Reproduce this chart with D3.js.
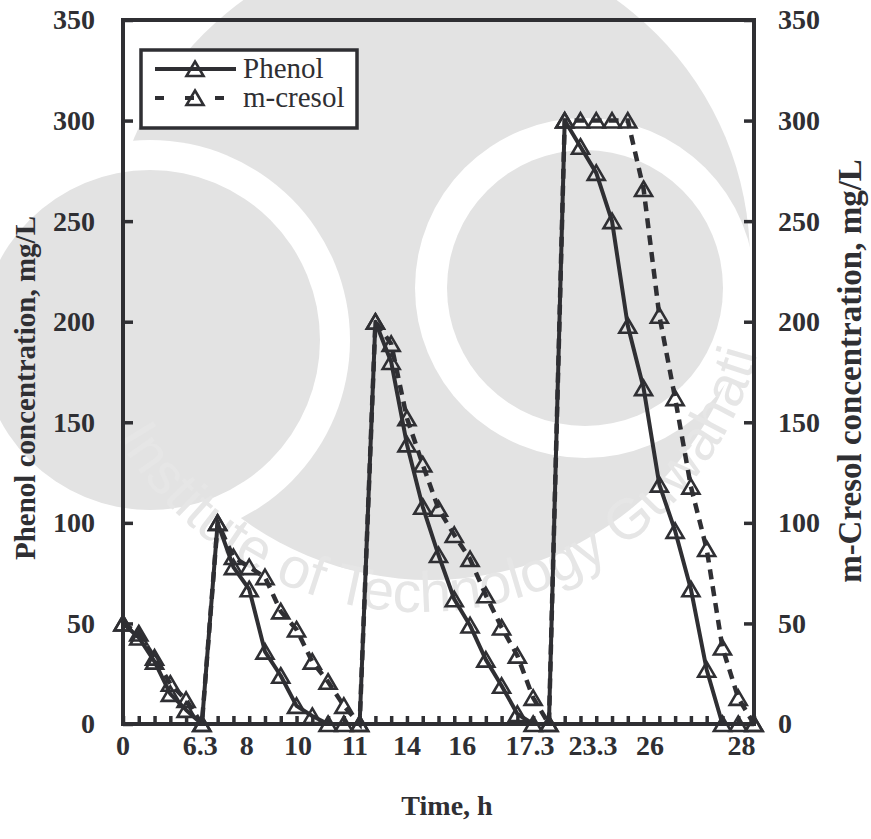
<!DOCTYPE html>
<html>
<head>
<meta charset="utf-8">
<script src="https://cdn.jsdelivr.net/npm/d3@7"></script>
<style>
  html, body { margin: 0; padding: 0; background: #ffffff; }
  svg { display: block; }
</style>
</head>
<body>
<div id="chart"></div>
<script>
// Sample index along the time axis (one reading per step)
const sampleIndex = d3.range(0, 41);

// Phenol concentration (mg/L) at each sample
const phenol = [
  50, 43, 31, 15, 7, 0,
  100, 78, 67, 36, 24, 9, 4, 0, 0, 0,
  200, 180, 139, 108, 84, 62, 49, 32, 19, 5, 0, 0,
  300, 287, 274, 250, 198, 167, 119, 96, 67, 27, 0, 0, 0
];

// m-cresol concentration (mg/L) at each sample
const cresol = [
  50, 45, 33, 20, 12, 0,
  100, 83, 78, 73, 56, 47, 31, 21, 9, 0,
  200, 189, 152, 129, 107, 94, 82, 64, 48, 34, 13, 0,
  300, 300, 300, 300, 300, 266, 203, 162, 118, 87, 38, 13, 0
];

// Time labels (h) and the sample index each one sits under
const timeLabels = ["0", "6.3", "8", "10", "11", "14", "16", "17.3", "23.3", "26", "28"];
const timeLabelAt = [0, 4.9, 7.85, 11.1, 14.7, 18.0, 21.5, 25.8, 29.8, 33.4, 39.2];

// Concentration axis ticks (mg/L)
const concTicks = [0, 50, 100, 150, 200, 250, 300, 350];

const seriesNames = ["Phenol", "m-cresol"];

const W = 871, H = 839;
const ink = "#2f2f33";
const plotLeft = 123, plotRight = 754, plotTop = 20, plotBottom = 724;

const svg = d3.select("#chart").append("svg")
  .attr("width", W).attr("height", H);

// Faint institutional seal behind the chart
const seal = svg.append("g").attr("class", "seal");
const sealGrey = "#e3e3e3";
seal.append("circle").attr("cx", 430).attr("cy", 260).attr("r", 320).attr("fill", sealGrey);
seal.append("circle").attr("cx", 150).attr("cy", 340).attr("r", 200).attr("fill", "#ffffff");
seal.append("circle").attr("cx", 150).attr("cy", 340).attr("r", 170).attr("fill", sealGrey);
seal.append("circle").attr("cx", 585).attr("cy", 288).attr("r", 170).attr("fill", "#ffffff");
seal.append("circle").attr("cx", 585).attr("cy", 288).attr("r", 138).attr("fill", sealGrey);

const ringR = 350, ringCx = 420, ringCy = 262;
seal.append("path")
  .attr("id", "sealRing")
  .attr("fill", "none")
  .attr("d", `M${ringCx},${ringCy - ringR} A${ringR},${ringR} 0 1 0 ${ringCx},${ringCy + ringR} A${ringR},${ringR} 0 1 0 ${ringCx},${ringCy - ringR}`);

// Ring text starts low on the left side (about 150 degrees round from the right)
const sealStartDeg = 150;
seal.append("text")
  .attr("fill", "#e6e6e6")
  .style("font-family", "'Liberation Sans', Arial, sans-serif")
  .style("font-size", "57px")
  .append("textPath")
  .attr("href", "#sealRing")
  .attr("startOffset", ringR * (360 - 90 - sealStartDeg) * Math.PI / 180)
  .text("Institute of Technology Guwahati");

const x = d3.scaleLinear().domain([0, 40]).range([plotLeft, plotRight]);
const yL = d3.scaleLinear().domain([0, 350]).range([plotBottom, plotTop]);
const yR = d3.scaleLinear().domain([0, 350]).range([plotBottom, plotTop]);

const font = "'Liberation Serif', 'Times New Roman', serif";

// Left axis: inward ticks, labels outside
const leftAxis = d3.axisLeft(yL).tickValues(concTicks).tickSizeInner(-10).tickSizeOuter(0).tickPadding(28);
const gL = svg.append("g").attr("transform", `translate(${plotLeft},0)`).call(leftAxis);

// Right axis
const rightAxis = d3.axisRight(yR).tickValues(concTicks).tickSizeInner(-10).tickSizeOuter(0).tickPadding(24);
const gR = svg.append("g").attr("transform", `translate(${plotRight},0)`).call(rightAxis);

// Bottom axis: an inward tick at every sample
const bottomAxis = d3.axisBottom(x).tickValues(sampleIndex).tickSizeInner(-8).tickSizeOuter(0).tickFormat("");
const gB = svg.append("g").attr("transform", `translate(0,${plotBottom})`).call(bottomAxis);

[gL, gR, gB].forEach(g => {
  g.select(".domain").remove();
  g.selectAll(".tick line").attr("stroke", ink).attr("stroke-width", 3.5);
  g.selectAll(".tick text")
    .attr("fill", ink)
    .style("font-family", font)
    .style("font-weight", "bold")
    .style("font-size", "28px");
});
gL.selectAll(".tick text").attr("text-anchor", "end");
gR.selectAll(".tick text").attr("text-anchor", "start");

// Time labels under the axis
svg.append("g").selectAll("text")
  .data(timeLabels)
  .join("text")
  .attr("x", (d, i) => x(timeLabelAt[i]))
  .attr("y", 755)
  .attr("text-anchor", "middle")
  .attr("fill", ink)
  .style("font-family", font)
  .style("font-weight", "bold")
  .style("font-size", "28px")
  .text(d => d);

// Plot frame
svg.append("rect")
  .attr("x", plotLeft).attr("y", plotTop)
  .attr("width", plotRight - plotLeft).attr("height", plotBottom - plotTop)
  .attr("fill", "none").attr("stroke", ink).attr("stroke-width", 4);

// Series lines
const lineL = d3.line().x((d, i) => x(i)).y(d => yL(d));
const lineR = d3.line().x((d, i) => x(i)).y(d => yR(d));

svg.append("path").datum(cresol)
  .attr("d", lineR).attr("fill", "none")
  .attr("stroke", ink).attr("stroke-width", 4.5)
  .attr("stroke-dasharray", "10,7");

svg.append("path").datum(phenol)
  .attr("d", lineL).attr("fill", "none")
  .attr("stroke", ink).attr("stroke-width", 4)
  .attr("stroke-linejoin", "round");

// Triangle markers
const tri = "M0,-7.5L8.5,7L-8.5,7Z";
function markers(data, yScale) {
  svg.append("g").selectAll("path")
    .data(data)
    .join("path")
    .attr("transform", (d, i) => `translate(${x(i)},${yScale(d)})`)
    .attr("d", tri)
    .attr("fill", "none")
    .attr("stroke", ink)
    .attr("stroke-width", 2.6)
    .attr("stroke-linejoin", "miter");
}
markers(cresol, yR);
markers(phenol, yL);

// Axis titles
svg.append("text")
  .attr("transform", `translate(35,388) rotate(-90)`)
  .attr("text-anchor", "middle")
  .attr("fill", ink)
  .style("font-family", font).style("font-weight", "bold").style("font-size", "29px")
  .text("Phenol concentration, mg/L");

svg.append("text")
  .attr("transform", `translate(861,371) rotate(-90)`)
  .attr("text-anchor", "middle")
  .attr("fill", ink)
  .style("font-family", font).style("font-weight", "bold").style("font-size", "33px")
  .text("m-Cresol concentration, mg/L");

svg.append("text")
  .attr("x", 447).attr("y", 815)
  .attr("text-anchor", "middle")
  .attr("fill", ink)
  .style("font-family", font).style("font-weight", "bold").style("font-size", "28px")
  .text("Time, h");

// Legend
const lg = svg.append("g");
lg.append("rect")
  .attr("x", 141).attr("y", 50).attr("width", 216).attr("height", 78)
  .attr("fill", "#ffffff").attr("stroke", ink).attr("stroke-width", 3.5);

const legendRows = [
  { name: seriesNames[0], dash: null, y: 69 },
  { name: seriesNames[1], dash: "9,21", y: 98 }
];
legendRows.forEach(r => {
  lg.append("line")
    .attr("x1", 155).attr("x2", 236).attr("y1", r.y).attr("y2", r.y)
    .attr("stroke", ink).attr("stroke-width", 4)
    .attr("stroke-dasharray", r.dash);
  lg.append("path")
    .attr("transform", `translate(195,${r.y})`)
    .attr("d", tri).attr("fill", "none")
    .attr("stroke", ink).attr("stroke-width", 2.6);
  lg.append("text")
    .attr("x", 243).attr("y", r.y + 9)
    .attr("fill", ink)
    .style("font-family", font).style("font-size", "29px")
    .text(r.name);
});
</script>
</body>
</html>
